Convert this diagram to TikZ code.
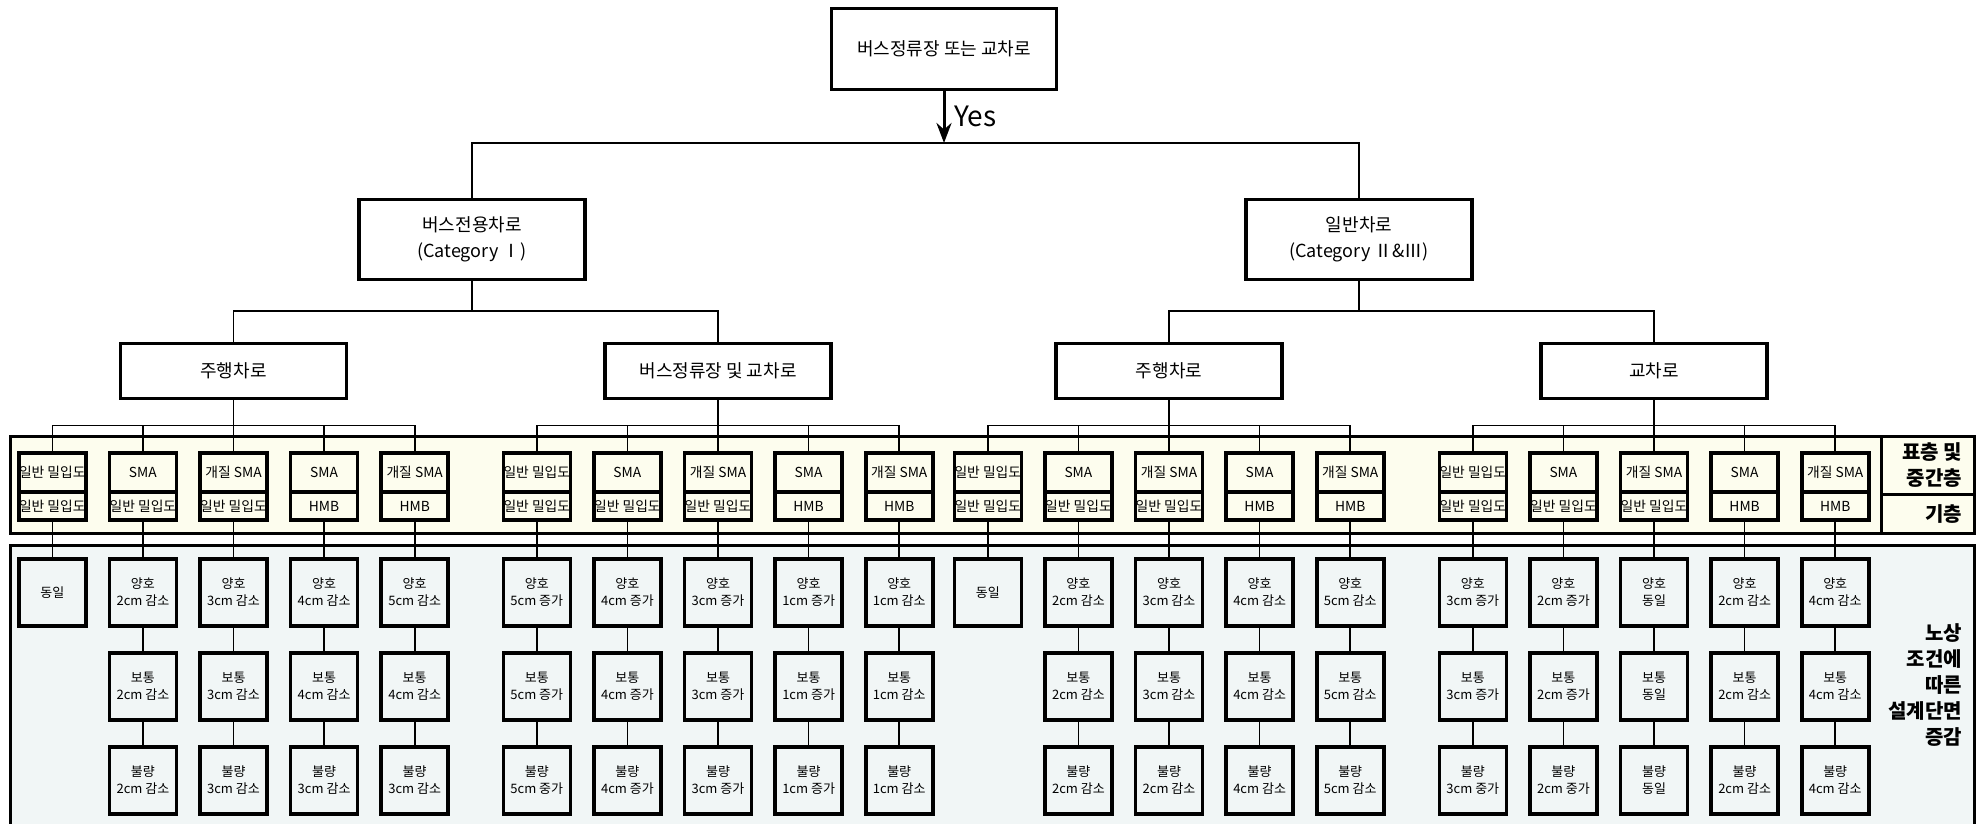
\documentclass[tikz,border=0pt]{standalone}
\usepackage{fontspec}
\newfontfamily\kr{Noto Sans CJK KR}
\usetikzlibrary{arrows.meta,calc,positioning}
\definecolor{layerfill}{HTML}{FDFDEE}
\definecolor{soilfill}{HTML}{F1F6F6}
\begin{document}
\begin{tikzpicture}[x=1pt,y=-1pt,font=\kr,
	headbox/.style={draw,line width=3.2pt,fill=white,align=center,inner sep=0pt,font=\kr\fontsize{18}{26}\selectfont},
	matbox/.style={draw,line width=3.6pt,fill=layerfill,minimum width=67pt,inner sep=0pt,outer sep=0pt,font=\kr\fontsize{13.8}{15}\selectfont},
	soilbox/.style={draw,line width=3.6pt,fill=soilfill,minimum width=67pt,minimum height=67pt,inner sep=0pt,outer sep=0pt,align=center,font=\kr\fontsize{13}{17}\selectfont},
	wire/.style={line width=1.6pt},
	sidelbl/.style={anchor=east,align=right,inner sep=0pt,font=\kr\bfseries\fontsize{20}{26}\selectfont}]
	\useasboundingbox (0,0) rectangle (1986,824);
	\filldraw[fill=layerfill,line width=3pt] (10,436) rectangle (1974,533);
	\filldraw[fill=soilfill,line width=3pt] (10,545) rectangle (1974,840);
	\draw[line width=3pt] (1881,436) -- (1881,533) (1881,494) -- (1974,494);
	\node[sidelbl] (surface) at (1962,465) {표층 및\\중간층};
	\node[sidelbl] (base) at (1962,514) {기층};
	\node[sidelbl] (subgrade) at (1962,685) {노상\\조건에\\따른\\설계단면\\증감};

	\node[headbox,minimum width=225pt,minimum height=81pt] (root) at (944,49) {버스정류장 또는 교차로};
	\node[headbox,minimum width=226pt,minimum height=80pt] (cat1) at (472,239.5) {버스전용차로\\(Category Ⅰ)};
	\node[headbox,minimum width=226pt,minimum height=80pt] (cat2) at (1359,239.5) {일반차로\\(Category Ⅱ\&Ⅲ)};
	\foreach \p/\x/\t in {lane1/233.5/주행차로,lane2/718/버스정류장 및 교차로,lane3/1169/주행차로,lane4/1654/교차로}{
		\node[headbox,minimum width=226pt,minimum height=55pt] (\p) at (\x,371) {\t};
	}
	\coordinate (split) at (944,143);
	\draw[line width=3pt,-{Stealth[length=20pt,width=15pt]}] (root) -- (split);
	\node[anchor=west,inner sep=0pt,font=\kr\fontsize{28}{30}\selectfont] (yes) at (954,116) {Yes};
	\draw[wire] (split) -| (cat1.north) (split) -| (cat2.north);
	\draw[wire] (cat1.south) -- ++(0,30) -| (lane1.north) (cat1.south) ++(0,30) -| (lane2.north);
	\draw[wire] (cat2.south) -- ++(0,30) -| (lane3.north) (cat2.south) ++(0,30) -| (lane4.north);

	\def\ga{일반 밀입도}
	\foreach \col/\p/\off/\ta/\tb in {a1/lane1/-2/\ga/\ga,c1/lane3/-2/\ga/\ga}{
		\node[matbox,minimum height=39pt] (\col-top) at ($(\p)+(\off*90.6,101.5)$) {\ta};
		\node[matbox,minimum height=28pt,below=0pt of \col-top] (\col-base) {\tb};
		\node[soilbox,below=39pt of \col-base] (\col-1) {동일};
		\draw[wire] (\p.south) -- ++(0,25.5) -| (\col-top.north);
		\draw[wire] (\col-base) -- (\col-1);
	}
	\foreach \col/\p/\off/\ta/\tb/\ra/\rb/\rc in {
		a2/lane1/-1/SMA/\ga/2cm 감소/2cm 감소/2cm 감소,
		a3/lane1/0/개질 SMA/\ga/3cm 감소/3cm 감소/3cm 감소,
		a4/lane1/1/SMA/HMB/4cm 감소/4cm 감소/3cm 감소,
		a5/lane1/2/개질 SMA/HMB/5cm 감소/4cm 감소/3cm 감소,
		b1/lane2/-2/\ga/\ga/5cm 증가/5cm 증가/5cm 중가,
		b2/lane2/-1/SMA/\ga/4cm 증가/4cm 증가/4cm 증가,
		b3/lane2/0/개질 SMA/\ga/3cm 증가/3cm 증가/3cm 증가,
		b4/lane2/1/SMA/HMB/1cm 증가/1cm 증가/1cm 증가,
		b5/lane2/2/개질 SMA/HMB/1cm 감소/1cm 감소/1cm 감소,
		c2/lane3/-1/SMA/\ga/2cm 감소/2cm 감소/2cm 감소,
		c3/lane3/0/개질 SMA/\ga/3cm 감소/3cm 감소/2cm 감소,
		c4/lane3/1/SMA/HMB/4cm 감소/4cm 감소/4cm 감소,
		c5/lane3/2/개질 SMA/HMB/5cm 감소/5cm 감소/5cm 감소,
		d1/lane4/-2/\ga/\ga/3cm 증가/3cm 증가/3cm 중가,
		d2/lane4/-1/SMA/\ga/2cm 증가/2cm 증가/2cm 중가,
		d3/lane4/0/개질 SMA/\ga/동일/동일/동일,
		d4/lane4/1/SMA/HMB/2cm 감소/2cm 감소/2cm 감소,
		d5/lane4/2/개질 SMA/HMB/4cm 감소/4cm 감소/4cm 감소}{
		\node[matbox,minimum height=39pt] (\col-top) at ($(\p)+(\off*90.6,101.5)$) {\ta};
		\node[matbox,minimum height=28pt,below=0pt of \col-top] (\col-base) {\tb};
		\node[soilbox,below=39pt of \col-base] (\col-1) {양호\\\ra};
		\node[soilbox,below=27pt of \col-1] (\col-2) {보통\\\rb};
		\node[soilbox,below=27pt of \col-2] (\col-3) {불량\\\rc};
		\draw[wire] (\p.south) -- ++(0,25.5) -| (\col-top.north);
		\draw[wire] (\col-base) -- (\col-1) (\col-1) -- (\col-2) (\col-2) -- (\col-3);
	}
\end{tikzpicture}
\end{document}
